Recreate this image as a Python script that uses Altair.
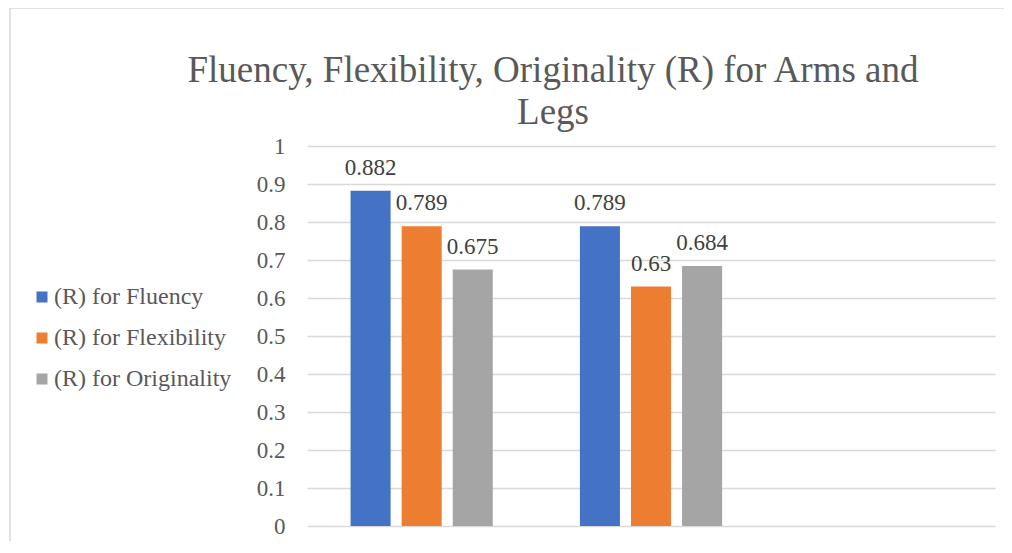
import altair as alt
import pandas as pd

# ---- data ----
groups = ["Arms", "Legs", "(empty)"]
series = ["(R) for Fluency", "(R) for Flexibility", "(R) for Originality"]
fluency = [0.882, 0.789]
flexibility = [0.789, 0.63]
originality = [0.675, 0.684]
y_ticks = [0, 0.1, 0.2, 0.3, 0.4, 0.5, 0.6, 0.7, 0.8, 0.9, 1]
title_lines = ["Fluency, Flexibility, Originality (R) for Arms and", "Legs"]
colors = ["#4472C4", "#ED7D31", "#A5A5A5"]

rows = []
for name, vals in zip(series, [fluency, flexibility, originality]):
    for g, v in zip(groups, vals):
        rows.append({"group": g, "series": name, "value": v})
df = pd.DataFrame(rows)

FONT = "Liberation Serif"
TXT = "#595959"

x_enc = alt.X("group:N", scale=alt.Scale(domain=groups, paddingInner=0, paddingOuter=0), axis=None)
xoff_enc = alt.XOffset("series:N", scale=alt.Scale(domain=series, paddingInner=0.216, paddingOuter=0.853))
y_enc = alt.Y("value:Q", scale=alt.Scale(domain=[0, 1], nice=False),
              axis=alt.Axis(values=y_ticks, format="~g", title=None, domain=False, ticks=False,
                            labelPadding=22, labelFontSize=23, labelFont=FONT, labelColor=TXT,
                            labelOverlap=False, grid=True, gridColor="#D9D9D9", gridWidth=1.3))

base = alt.Chart(df)

bars = base.mark_bar().encode(
    x=x_enc,
    xOffset=xoff_enc,
    y=y_enc,
    color=alt.Color("series:N", scale=alt.Scale(domain=series, range=colors),
                    legend=alt.Legend(title=None, orient="none", legendX=-277, legendY=139,
                                      symbolType="square", symbolSize=121, symbolStrokeWidth=0,
                                      labelFont=FONT, labelFontSize=24, labelColor=TXT,
                                      labelLimit=0, labelOffset=0, rowPadding=17)),
)

labels = base.mark_text(baseline="alphabetic", dy=-16, font=FONT, fontSize=23, color="#404040").encode(
    x=x_enc,
    xOffset=xoff_enc,
    y=y_enc,
    text=alt.Text("value:Q"),
)

frame_df = pd.DataFrame({"k": [0]})
left_border = alt.Chart(frame_df).mark_rule(color="#D9D9D9", strokeWidth=1.5).encode(
    x=alt.value(-297), y=alt.value(-138), y2=alt.value(400))
top_border = alt.Chart(frame_df).mark_rule(color="#D9D9D9", strokeWidth=1.5).encode(
    x=alt.value(-297), x2=alt.value(700), y=alt.value(-138))

chart = alt.layer(bars, labels, left_border, top_border).properties(
    width=688,
    height=380,
    autosize=alt.AutoSizeParams(type="none"),
    padding={"left": 299, "top": 138, "right": 9, "bottom": 15},
    title=alt.TitleParams(text=title_lines, anchor="middle", frame="group", dx=-98, dy=133,
                          font=FONT, fontSize=37, fontWeight="normal", color=TXT,
                          lineHeight=42, offset=8),
).configure(font=FONT).configure_view(stroke=None)

chart.save("out.html", embed_options={"renderer": "svg", "actions": False})
